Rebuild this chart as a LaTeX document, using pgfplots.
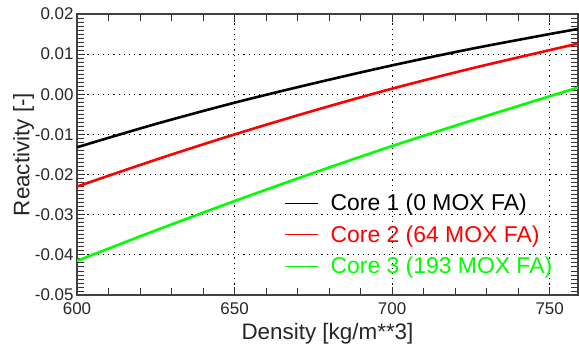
\documentclass[border=0pt]{standalone}
\usepackage{fontspec}
\setmainfont{Liberation Sans}
\usepackage{pgfplots}
\pgfplotsset{compat=1.18}
\definecolor{pgreen}{RGB}{0,255,0}
\definecolor{pred}{RGB}{255,0,0}
\begin{document}
\begin{tikzpicture}
\begin{axis}[
 scale only axis, width=501bp, height=281bp,
 xmin=600, xmax=759, ymin=-0.05, ymax=0.02,
 xtick={600,650,700,750}, minor x tick num=4,
 ytick={-0.05,-0.04,-0.03,-0.02,-0.01,0,0.01,0.02}, minor y tick num=9,
 scaled y ticks=false,
 yticklabel style={/pgf/number format/fixed, /pgf/number format/fixed zerofill, /pgf/number format/precision=2},
 xticklabel style={yshift=-4bp},
 /pgf/number format/assume math mode=true,
 tick label style={font=\fontsize{17}{20}\selectfont, black!85},
 label style={font=\fontsize{22.5}{26}\selectfont, black!85},
 xlabel={Density [kg/m**3]}, ylabel={Reactivity [-]},
 xlabel style={yshift=-2bp},
 ylabel style={yshift=-6bp},
 grid=major, major grid style={black, line width=1bp, dash pattern=on 1.2bp off 4bp},
 axis line style={line width=1.2bp, black!75},
 tick style={black!80, line width=0.8bp},
 major tick length=8bp, minor tick length=7bp,
 tick align=inside,
 legend style={draw=none, fill=none, at={(axis cs:665,-0.0238)}, anchor=north west, font=\fontsize{23}{27}\selectfont, row sep=9.5bp},
 legend cell align=left,
 legend image code/.code={\draw[#1, line width=0.6bp] (0bp,0bp) -- (33bp,0bp); \path (42bp,0bp);},
]
\addplot[black, line width=2.6bp, smooth] coordinates {(600,-0.0132) (625,-0.0074) (650,-0.0021) (675,0.0027) (700,0.0072) (725,0.0113) (750,0.0150) (760,0.0164)};
\addlegendentry{Core 1 (0 MOX FA)}
\addplot[pred, line width=2.6bp, smooth] coordinates {(600,-0.0230) (625,-0.0163) (650,-0.0100) (675,-0.0041) (700,0.0014) (725,0.0064) (750,0.0110) (760,0.0128)};
\addlegendentry{\textcolor{pred}{Core 2 (64 MOX FA)}}
\addplot[pgreen, line width=2.6bp, smooth] coordinates {(600,-0.0415) (625,-0.0339) (650,-0.0266) (675,-0.0196) (700,-0.0129) (725,-0.0066) (750,-0.0005) (760,0.0019)};
\addlegendentry{\textcolor{pgreen}{Core 3 (193 MOX FA)}}
\end{axis}
\pgfresetboundingbox
\path ([shift={(-77bp,-57bp)}]current axis.south west) rectangle ([shift={(1bp,14bp)}]current axis.north east);
\end{tikzpicture}
\end{document}
